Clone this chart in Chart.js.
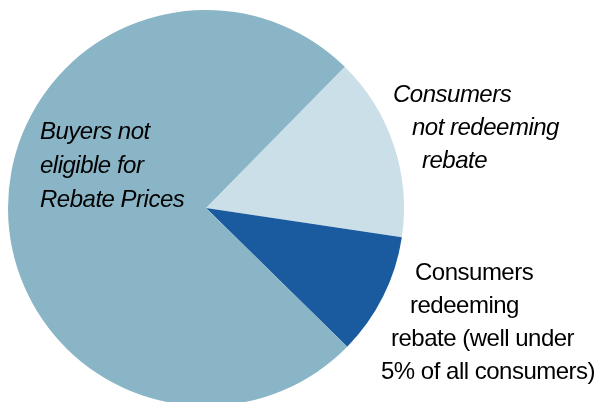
<!DOCTYPE html>
<html>
<head>
<meta charset="utf-8">
<script src="https://cdn.jsdelivr.net/npm/chart.js@4.4.1/dist/chart.umd.min.js"></script>
<style>
	html, body { margin: 0; padding: 0; background: #fff; overflow: hidden; }
	#wrap { position: absolute; left: 0; top: 0; width: 597px; height: 406px; }
</style>
</head>
<body>
<div id="wrap"><canvas id="chart" width="597" height="406"></canvas></div>
<script>
// slices, clockwise from the top-right edge
const categories = [
	'Consumers not redeeming rebate',
	'Consumers redeeming rebate',
	'Buyers not eligible for Rebate Prices'
];
const shares = [15, 10, 75];
const sliceColors = ['#CBDFE8', '#1A5B9F', '#89B5C6'];

// text as it is broken on the picture
const labelLines = [
	['Consumers', 'not redeeming', 'rebate'],
	['Consumers', 'redeeming', 'rebate (well under', '5% of all consumers)'],
	['Buyers not', 'eligible for', 'Rebate Prices']
];

const textPlugin = {
	id: 'sliceText',
	afterDraw(chart) {
		const ctx = chart.ctx;
		// [x, baseline y] per line, and italic or not
		const spots = [
			{ italic: true, pos: [[393, 102], [412, 135], [422, 168]] },
			{ italic: false, pos: [[415, 280], [410, 313], [391, 346], [381, 379]] },
			{ italic: true, pos: [[40, 139], [40, 173], [40, 207]] }
		];
		ctx.save();
		ctx.fillStyle = '#000';
		ctx.textAlign = 'left';
		ctx.textBaseline = 'alphabetic';
		ctx.letterSpacing = '-0.5px';
		labelLines.forEach((lines, i) => {
			const s = spots[i];
			ctx.font = (s.italic ? 'italic ' : '') + '24px "Liberation Sans", Arial, sans-serif';
			lines.forEach((line, j) => {
				ctx.fillText(line, s.pos[j][0], s.pos[j][1]);
			});
		});
		ctx.restore();
	}
};

const ctx = document.getElementById('chart').getContext('2d');
new Chart(ctx, {
	type: 'pie',
	data: {
		labels: categories,
		datasets: [{
			data: shares,
			backgroundColor: sliceColors,
			borderWidth: 0
		}]
	},
	options: {
		responsive: false,
		animation: false,
		rotation: 44.5,
		layout: {
			padding: { left: 8, top: 10, right: 193, bottom: 0 }
		},
		plugins: {
			legend: { display: false },
			tooltip: { enabled: false }
		}
	},
	plugins: [textPlugin]
});
</script>
</body>
</html>
